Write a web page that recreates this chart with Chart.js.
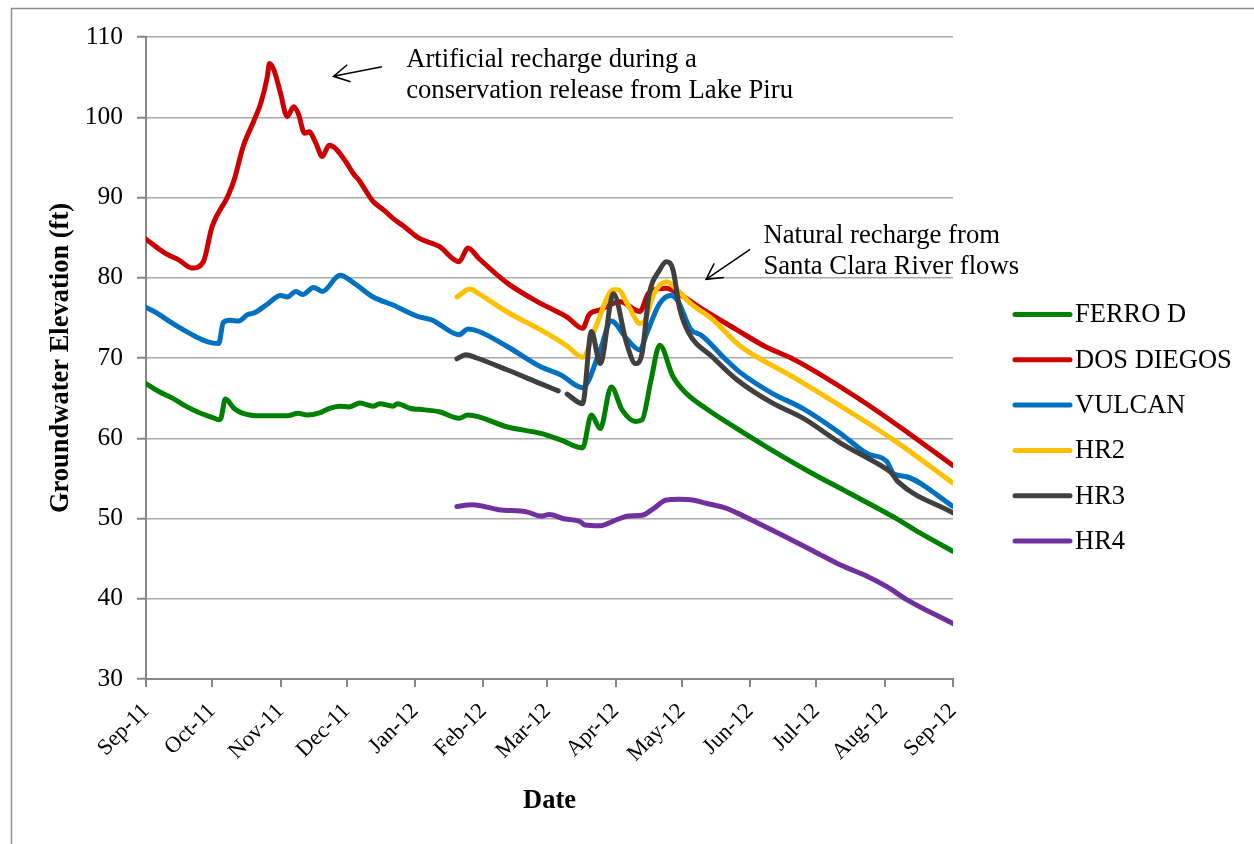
<!DOCTYPE html>
<html>
<head>
<meta charset="utf-8">
<title>Groundwater Elevation</title>
<script src="https://cdn.jsdelivr.net/npm/chart.js@4.4.0/dist/chart.umd.min.js"></script>
<style>
  html, body { margin: 0; padding: 0; background: #fff; }
  #wrap { position: relative; width: 1254px; height: 844px; }
</style>
</head>
<body>
<div id="wrap"><canvas id="chart" width="1254" height="844"></canvas></div>
<script>
// ---- axis definitions ----
const START = '2011-09-01';
const monthStarts = ['2011-09-01','2011-10-01','2011-11-01','2011-12-01','2012-01-01','2012-02-01',
  '2012-03-01','2012-04-01','2012-05-01','2012-06-01','2012-07-01','2012-08-01','2012-09-01'];
const monthLabels = ['Sep-11','Oct-11','Nov-11','Dec-11','Jan-12','Feb-12','Mar-12','Apr-12',
  'May-12','Jun-12','Jul-12','Aug-12','Sep-12'];
const elevationTicks = [30, 40, 50, 60, 70, 80, 90, 100, 110];

// ---- well series (groundwater elevation, ft) ----
const ferroDates = ['2011-09-01','2011-09-07','2011-09-13','2011-09-19','2011-09-25','2011-10-01','2011-10-04',
  '2011-10-05','2011-10-07','2011-10-11','2011-10-15','2011-10-23','2011-11-04','2011-11-09','2011-11-13',
  '2011-11-19','2011-11-23','2011-11-28','2011-12-02','2011-12-07','2011-12-13','2011-12-16','2011-12-22',
  '2011-12-24','2011-12-30','2012-01-03','2012-01-12','2012-01-21','2012-01-25','2012-02-12','2012-02-27',
  '2012-03-07','2012-03-17','2012-03-21','2012-03-25','2012-03-30','2012-04-04','2012-04-10','2012-04-13',
  '2012-04-17','2012-04-21','2012-04-27','2012-05-03','2012-05-12','2012-05-26','2012-06-11','2012-06-28',
  '2012-07-15','2012-08-05','2012-08-17','2012-09-01'];
const ferroFt = [66.8,65.8,65.0,64.0,63.2,62.6,62.3,62.5,64.9,63.7,63.1,62.8,62.8,63.1,62.9,
  63.2,63.7,64.0,63.9,64.4,64.0,64.3,64.0,64.3,63.7,63.6,63.3,62.5,62.9,61.4,60.6,
  59.8,58.8,62.9,61.2,66.4,63.5,62.1,62.3,67.2,71.6,67.7,65.6,63.7,61.2,58.5,55.8,
  53.3,50.2,48.2,45.9];

const dosDiegosDates = ['2011-09-01','2011-09-10','2011-09-16','2011-09-22','2011-09-27','2011-10-01','2011-10-08',
  '2011-10-11','2011-10-15','2011-10-20','2011-10-23','2011-10-26','2011-10-27','2011-10-29','2011-11-01',
  '2011-11-04','2011-11-07','2011-11-09','2011-11-12','2011-11-14','2011-11-17','2011-11-20','2011-11-23',
  '2011-11-26','2011-12-01','2011-12-04','2011-12-07','2011-12-10','2011-12-13','2011-12-18','2011-12-22',
  '2011-12-27','2011-12-31','2012-01-03','2012-01-12','2012-01-21','2012-01-25','2012-01-30','2012-02-12',
  '2012-02-27','2012-03-10','2012-03-17','2012-03-20','2012-03-25','2012-04-03','2012-04-12','2012-04-16',
  '2012-04-24','2012-04-29','2012-05-12','2012-05-26','2012-06-08','2012-06-21','2012-07-21','2012-08-12',
  '2012-09-01'];
const dosDiegosFt = [84.8,83.0,82.2,81.2,82.0,86.4,90.1,92.2,96.3,99.6,101.7,105.0,106.7,105.9,103.0,
  100.1,101.3,100.5,98.0,98.2,96.8,95.1,96.5,96.1,94.3,93.0,92.0,90.7,89.5,88.4,87.4,
  86.4,85.5,84.9,83.9,82.0,83.7,82.4,79.3,76.8,75.1,73.7,75.4,76.0,77.0,75.8,78.1,
  78.7,78.1,75.8,73.5,71.4,69.8,64.8,60.6,56.6];

const vulcanDates = ['2011-09-01','2011-09-06','2011-09-12','2011-09-18','2011-09-24','2011-09-29','2011-10-04',
  '2011-10-06','2011-10-09','2011-10-13','2011-10-17','2011-10-20','2011-10-26','2011-11-01','2011-11-04',
  '2011-11-08','2011-11-11','2011-11-16','2011-11-20','2011-11-28','2011-12-04','2011-12-13','2011-12-22',
  '2012-01-02','2012-01-09','2012-01-12','2012-01-21','2012-01-25','2012-01-30','2012-02-12','2012-02-27',
  '2012-03-07','2012-03-17','2012-03-25','2012-03-30','2012-04-06','2012-04-12','2012-04-15','2012-04-21',
  '2012-04-26','2012-04-29','2012-05-05','2012-05-10','2012-05-21','2012-05-27','2012-06-11','2012-06-25',
  '2012-07-12','2012-07-24','2012-08-02','2012-08-05','2012-08-11','2012-09-01'];
const vulcanFt = [76.3,75.6,74.5,73.5,72.6,72.0,71.8,74.4,74.7,74.6,75.4,75.6,76.7,77.8,77.6,
  78.3,77.9,78.8,78.3,80.3,79.4,77.6,76.6,75.2,74.7,74.2,72.9,73.6,73.3,71.4,68.9,
  67.9,66.3,71.0,74.6,72.4,71.0,73.0,76.8,77.8,77.2,73.6,72.8,69.8,68.3,65.6,63.7,
  60.6,58.1,57.1,55.6,55.2,51.5];

const hr2Dates = ['2012-01-20','2012-01-26','2012-01-30','2012-02-12','2012-02-27','2012-03-10','2012-03-17',
  '2012-03-23','2012-03-31','2012-04-02','2012-04-07','2012-04-12','2012-04-14','2012-04-18','2012-04-24',
  '2012-04-27','2012-05-05','2012-05-15','2012-05-27','2012-06-20','2012-07-15','2012-08-05','2012-09-01'];
const hr2Ft = [77.6,78.6,78.0,75.7,73.5,71.5,70.1,73.9,78.5,78.5,76.4,74.3,74.5,77.8,79.5,
  79.0,76.8,74.8,71.6,67.7,63.5,59.8,54.4];

// HR3 has a short break in its record in early March 2012 (null value)
const hr3Dates = ['2012-01-20','2012-01-24','2012-01-29','2012-02-12','2012-02-27','2012-03-06','2012-03-08',
  '2012-03-10','2012-03-17','2012-03-21','2012-03-25','2012-03-31','2012-04-06','2012-04-10','2012-04-13',
  '2012-04-16','2012-04-21','2012-04-24','2012-04-27','2012-04-30','2012-05-04','2012-05-15','2012-05-26',
  '2012-06-11','2012-06-25','2012-07-12','2012-07-29','2012-08-04','2012-08-07','2012-09-01'];
const hr3Ft = [69.9,70.4,70.0,68.5,66.8,65.9,null,65.5,64.3,73.3,69.3,78.0,71.8,69.3,70.6,
  77.6,81.0,82.0,81.0,76.2,73.2,70.1,67.3,64.4,62.5,59.4,56.8,55.7,54.6,50.7];

const hr4Dates = ['2012-01-20','2012-01-27','2012-02-08','2012-02-21','2012-02-27','2012-03-02','2012-03-08',
  '2012-03-16','2012-03-18','2012-03-25','2012-04-01','2012-04-07','2012-04-13','2012-04-18','2012-04-24',
  '2012-04-30','2012-05-06','2012-05-12','2012-05-21','2012-05-26','2012-06-04','2012-06-15','2012-06-30',
  '2012-07-12','2012-07-24','2012-08-02','2012-08-11','2012-09-01'];
const hr4Ft = [51.5,51.7,51.1,50.8,50.3,50.5,50.0,49.6,49.2,49.1,49.8,50.3,50.4,51.2,52.3,
  52.4,52.3,51.9,51.3,50.7,49.5,48.0,45.9,44.2,42.8,41.5,39.9,36.9];

const seriesNames = ['FERRO D', 'DOS DIEGOS', 'VULCAN', 'HR2', 'HR3', 'HR4'];
const seriesColors = ['#008000', '#cc0000', '#0070c0', '#ffc000', '#404040', '#7030a0'];

// ---- callout notes (anchored in date / elevation units) ----
const notes = [
  { lines: ['Artificial recharge during a', 'conservation release from Lake Piru'],
    textAt: ['2011-12-28', 106.3], tail: ['2011-12-17', 106.3], head: ['2011-11-25', 105.1] },
  { lines: ['Natural recharge from', 'Santa Clara River flows'],
    textAt: ['2012-06-07', 84.3], tail: ['2012-06-01', 83.55], head: ['2012-05-12', 79.8] }
];

// ---- helpers ----
const DAY_MS = 86400000;
const toDay = s => Math.round((Date.parse(s) - Date.parse(START)) / DAY_MS);
const toPoints = (dates, vals) => dates.map((d, i) => ({ x: toDay(d), y: vals[i] }));
const monthDays = monthStarts.map(toDay);

const seriesPoints = [
  toPoints(ferroDates, ferroFt),
  toPoints(dosDiegosDates, dosDiegosFt),
  toPoints(vulcanDates, vulcanFt),
  toPoints(hr2Dates, hr2Ft),
  toPoints(hr3Dates, hr3Ft),
  toPoints(hr4Dates, hr4Ft)
];

const SERIF = '"Liberation Serif", "Times New Roman", serif';
const AXIS_GRAY = '#868686';

// white page, outer frame
const framePlugin = {
  id: 'frame',
  beforeDraw(chart) {
    const ctx = chart.ctx;
    ctx.save();
    ctx.fillStyle = '#fff';
    ctx.fillRect(0, 0, chart.width, chart.height);
    ctx.strokeStyle = '#8c8c8c';
    ctx.lineWidth = 1.5;
    ctx.beginPath();
    ctx.moveTo(11.5, chart.height);
    ctx.lineTo(11.5, 8.5);
    ctx.lineTo(chart.width, 8.5);
    ctx.stroke();
    ctx.restore();
  }
};

// legend column to the right of the plot
const sideLegend = {
  id: 'sideLegend',
  afterDraw(chart) {
    const ctx = chart.ctx;
    const x0 = 1015, len = 55, y0 = 314.5, step = 45.3;
    ctx.save();
    ctx.font = '26.5px ' + SERIF;
    ctx.textBaseline = 'middle';
    ctx.fillStyle = '#000';
    seriesNames.forEach((name, i) => {
      const y = y0 + i * step;
      ctx.strokeStyle = seriesColors[i];
      ctx.lineWidth = 5;
      ctx.lineCap = 'round';
      ctx.beginPath();
      ctx.moveTo(x0, y);
      ctx.lineTo(x0 + len, y);
      ctx.stroke();
      ctx.fillText(name, x0 + len + 5, y + 1);
    });
    ctx.restore();
  }
};

// callout text with open arrowheads
const callouts = {
  id: 'callouts',
  afterDraw(chart) {
    const { ctx, scales: { x, y } } = chart;
    const px = p => [x.getPixelForValue(toDay(p[0])), y.getPixelForValue(p[1])];
    ctx.save();
    ctx.font = '26.7px ' + SERIF;
    ctx.fillStyle = '#000';
    ctx.textBaseline = 'alphabetic';
    notes.forEach(n => {
      const [tx, ty] = px(n.textAt);
      n.lines.forEach((line, i) => ctx.fillText(line, tx, ty + i * 31));
      const [ax, ay] = px(n.tail);
      const [hx, hy] = px(n.head);
      ctx.strokeStyle = '#000';
      ctx.lineWidth = 1.5;
      ctx.beginPath();
      ctx.moveTo(ax, ay);
      ctx.lineTo(hx, hy);
      const ang = Math.atan2(ay - hy, ax - hx);
      const wing = 18, spread = 0.5;
      ctx.moveTo(hx + wing * Math.cos(ang - spread), hy + wing * Math.sin(ang - spread));
      ctx.lineTo(hx, hy);
      ctx.lineTo(hx + wing * Math.cos(ang + spread), hy + wing * Math.sin(ang + spread));
      ctx.stroke();
    });
    ctx.restore();
  }
};

new Chart(document.getElementById('chart'), {
  type: 'line',
  data: {
    datasets: seriesNames.map((name, i) => ({
      label: name,
      data: seriesPoints[i],
      borderColor: seriesColors[i],
      backgroundColor: seriesColors[i],
      borderWidth: 5,
      borderCapStyle: 'round',
      borderJoinStyle: 'round',
      pointRadius: 0,
      cubicInterpolationMode: 'monotone',
      spanGaps: false,
      fill: false,
      order: seriesNames.length - i
    }))
  },
  options: {
    responsive: false,
    animation: false,
    devicePixelRatio: 1,
    parsing: true,
    layout: { padding: { left: 0, top: 37, right: 1254 - 953, bottom: 0 } },
    plugins: {
      legend: { display: false },
      tooltip: { enabled: false }
    },
    scales: {
      x: {
        type: 'linear',
        min: 0,
        max: toDay('2012-09-01'),
        afterBuildTicks: s => { s.ticks = monthDays.map(v => ({ value: v })); },
        afterFit: s => { s.height = 844 - 679; },
        ticks: {
          autoSkip: false,
          minRotation: 45,
          maxRotation: 45,
          padding: 11,
          color: '#000',
          font: { family: SERIF, size: 22.5 },
          callback: v => monthLabels[monthDays.indexOf(v)]
        },
        grid: { drawOnChartArea: false, drawTicks: true, tickLength: 8, color: AXIS_GRAY, lineWidth: 2 },
        border: { color: AXIS_GRAY, width: 2 },
        title: {
          display: true,
          text: 'Date',
          color: '#000',
          font: { family: SERIF, size: 26.5, weight: 'bold' },
          padding: { top: 0, bottom: 27 }
        }
      },
      y: {
        type: 'linear',
        min: 30,
        max: 110,
        afterBuildTicks: s => { s.ticks = elevationTicks.map(v => ({ value: v })); },
        afterFit: s => { s.width = 146; },
        ticks: {
          padding: 14,
          color: '#000',
          font: { family: SERIF, size: 25.5 }
        },
        grid: { color: '#a9a9a9', lineWidth: 1.5, tickLength: 9, tickColor: AXIS_GRAY, tickWidth: 2 },
        border: { color: AXIS_GRAY, width: 2 },
        title: {
          display: true,
          text: 'Groundwater Elevation (ft)',
          color: '#000',
          font: { family: SERIF, size: 26.5, weight: 'bold' },
          padding: { top: 45, bottom: 0 }
        }
      }
    }
  },
  plugins: [framePlugin, sideLegend, callouts]
});
</script>
</body>
</html>
